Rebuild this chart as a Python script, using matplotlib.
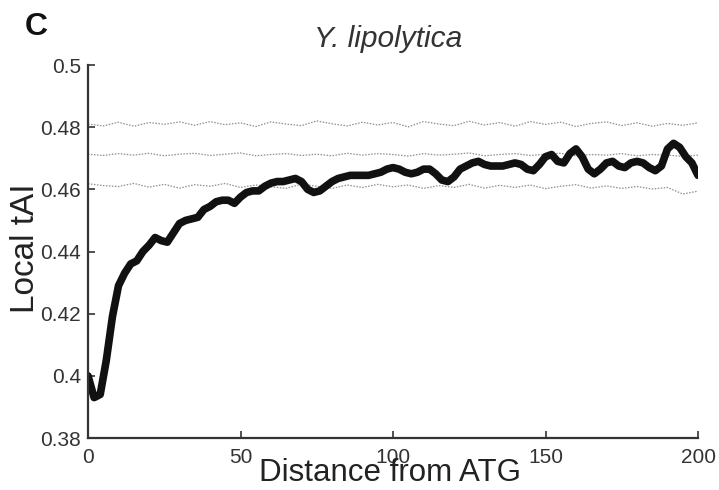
import numpy as np
import matplotlib
matplotlib.use("Agg")
import matplotlib.pyplot as plt

plt.rcParams['font.family'] = ['Liberation Sans', 'DejaVu Sans']

# Observed local tAI (black curve), positions 0..200 step 2
pos = list(range(0, 201, 2))
tai = [0.400, 0.393, 0.394, 0.405, 0.419, 0.429, 0.433, 0.436, 0.437, 0.440,
       0.442, 0.4445, 0.4435, 0.443, 0.446, 0.449, 0.450, 0.4505, 0.451, 0.4535,
       0.4545, 0.456, 0.4565, 0.4565, 0.4555, 0.4575, 0.459, 0.4595, 0.4595, 0.461,
       0.462, 0.4625, 0.4625, 0.463, 0.4635, 0.4625, 0.460, 0.459, 0.4595, 0.461,
       0.4625, 0.4635, 0.464, 0.4645, 0.4645, 0.4645, 0.4645, 0.465, 0.4655, 0.4665,
       0.467, 0.4665, 0.4655, 0.465, 0.4655, 0.4665, 0.4665, 0.465, 0.463, 0.4625,
       0.464, 0.4665, 0.4675, 0.4685, 0.469, 0.468, 0.4675, 0.4675, 0.4675, 0.468,
       0.4685, 0.468, 0.4665, 0.466, 0.468, 0.4705, 0.4712, 0.469, 0.4685, 0.4715,
       0.473, 0.4705, 0.4665, 0.465, 0.4665, 0.4685, 0.469, 0.4675, 0.467, 0.4685,
       0.469, 0.4685, 0.467, 0.466, 0.4675, 0.473, 0.4748, 0.4735, 0.4705, 0.4685,
       0.4645]

# Randomized-control curves (gray dotted), positions 0..200 step 5
pos_ctrl = list(range(0, 201, 5))
ctrl_upper = [0.4810, 0.4804, 0.4816, 0.4803, 0.4815, 0.4809, 0.4817, 0.4806, 0.4818, 0.4808,
              0.4814, 0.4802, 0.4817, 0.4810, 0.4805, 0.4820, 0.4811, 0.4804, 0.4816, 0.4807,
              0.4815, 0.4801, 0.4818, 0.4810, 0.4805, 0.4819, 0.4807, 0.4815, 0.4803, 0.4818,
              0.4809, 0.4816, 0.4802, 0.4812, 0.4817, 0.4805, 0.4814, 0.4803, 0.4812, 0.4806,
              0.4814]
ctrl_mid = [0.4713, 0.4709, 0.4715, 0.4710, 0.4716, 0.4708, 0.4713, 0.4716, 0.4709, 0.4713,
            0.4717, 0.4708, 0.4712, 0.4715, 0.4709, 0.4713, 0.4708, 0.4716, 0.4710, 0.4715,
            0.4712, 0.4707, 0.4715, 0.4710, 0.4713, 0.4717, 0.4708, 0.4712, 0.4715, 0.4709,
            0.4713, 0.4716, 0.4708, 0.4712, 0.4710, 0.4715, 0.4708, 0.4712, 0.4710, 0.4706,
            0.4710]
ctrl_lower = [0.4618, 0.4612, 0.4609, 0.4619, 0.4607, 0.4616, 0.4604, 0.4615, 0.4610, 0.4619,
              0.4606, 0.4614, 0.4608, 0.4603, 0.4617, 0.4610, 0.4603, 0.4614, 0.4606, 0.4616,
              0.4608, 0.4614, 0.4603, 0.4612, 0.4606, 0.4616, 0.4604, 0.4613, 0.4606, 0.4614,
              0.4602, 0.4610, 0.4615, 0.4604, 0.4611, 0.4603, 0.4609, 0.4601, 0.4606, 0.4585,
              0.4594]

xticks = [0, 50, 100, 150, 200]
yticks = [0.38, 0.4, 0.42, 0.44, 0.46, 0.48, 0.5]
yticklabels = ['0.38', '0.4', '0.42', '0.44', '0.46', '0.48', '0.5']

fig = plt.figure(figsize=(7.19, 4.90), dpi=100)
ax = fig.add_axes([88/719, (490-438)/490, (698-88)/719, (438-65)/490])

for c in (ctrl_upper, ctrl_mid, ctrl_lower):
    ax.plot(pos_ctrl, c, color='#8e8e8e', lw=0.9, ls=(0, (1.2, 1.2)))
ax.plot(pos, tai, color='#111111', lw=5.5, solid_capstyle='round', solid_joinstyle='round')

ax.set_xlim(0, 200)
ax.set_ylim(0.38, 0.5)
ax.set_xticks(xticks)
ax.set_xticklabels([str(t) for t in xticks])
ax.set_yticks(yticks)
ax.set_yticklabels(yticklabels)
ax.tick_params(direction='in', length=5, width=1.2, labelsize=15, colors='#333333')
ax.tick_params(axis='x', pad=7)
ax.tick_params(axis='y', pad=5)
for s in ('top', 'right'):
    ax.spines[s].set_visible(False)
for s in ('left', 'bottom'):
    ax.spines[s].set_linewidth(1.6)
    ax.spines[s].set_color('#333333')

ax.set_xlabel('Distance from ATG', fontsize=22.5, color='#222222', va='center')
ax.xaxis.set_label_coords((390 - 88) / 610, -(473 - 438) / 373)
ax.set_ylabel('Local tAI', fontsize=24, color='#222222', va='center')
ax.yaxis.set_label_coords(-(88 - 26) / 610, (438 - 248) / 373)
fig.text(388/719, 1 - 39/490, 'Y. lipolytica', fontsize=21.5, style='italic', color='#333333',
         ha='center', va='center')
fig.text(36/719, 1 - 27/490, 'C', fontsize=23, fontweight='bold', color='#111111',
         ha='center', va='center')

fig.savefig('out.png', dpi=100)
